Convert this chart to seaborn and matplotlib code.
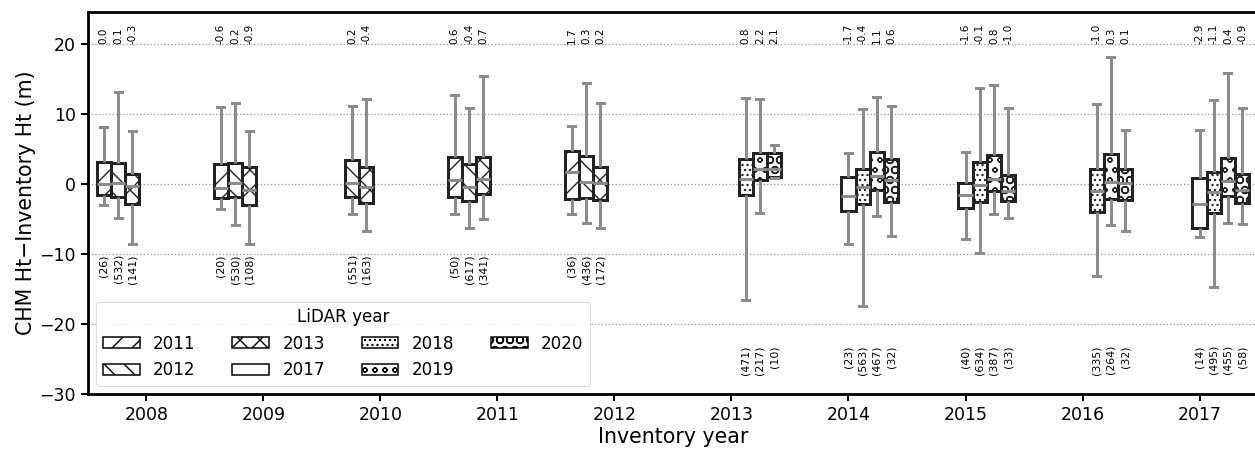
import numpy as np
import pandas as pd
import matplotlib
matplotlib.use("Agg")
import matplotlib.pyplot as plt
from matplotlib.patches import Patch
from matplotlib.colors import to_hex
import seaborn as sns

# ---------------- data ----------------
inventory_years = [2008, 2009, 2010, 2011, 2012, 2013, 2014, 2015, 2016, 2017]
lidar_years = [2011, 2012, 2013, 2017, 2018, 2019, 2020]

box_inventory = [2008, 2008, 2008,
                 2009, 2009, 2009,
                 2010, 2010,
                 2011, 2011, 2011,
                 2012, 2012, 2012,
                 2013, 2013, 2013,
                 2014, 2014, 2014, 2014,
                 2015, 2015, 2015, 2015,
                 2016, 2016, 2016,
                 2017, 2017, 2017, 2017]
box_lidar = [2011, 2012, 2013,
             2011, 2012, 2013,
             2012, 2013,
             2011, 2012, 2013,
             2011, 2012, 2013,
             2018, 2019, 2020,
             2017, 2018, 2019, 2020,
             2017, 2018, 2019, 2020,
             2018, 2019, 2020,
             2017, 2018, 2019, 2020]
box_min = [-3.0, -4.9, -8.6,
           -3.6, -5.8, -8.6,
           -4.3, -6.7,
           -4.3, -6.3, -5.0,
           -4.3, -5.5, -6.3,
           -16.6, -4.1, 0.9,
           -8.6, -17.4, -4.6, -7.4,
           -7.9, -9.8, -4.2, -4.9,
           -13.1, -5.9, -6.7,
           -7.6, -14.7, -5.6, -5.7]
box_q1 = [-1.6, -1.9, -2.8,
          -2.0, -1.9, -3.0,
          -1.8, -2.7,
          -1.8, -2.4, -1.4,
          -2.1, -2.0, -2.3,
          -1.6, 0.6, 1.0,
          -3.8, -2.8, -0.8, -2.5,
          -3.4, -2.5, -1.0, -2.4,
          -4.0, -2.1, -2.3,
          -6.2, -4.1, -1.7, -2.7]
box_median = [0.0, 0.1, -0.3,
              -0.6, 0.2, -0.9,
              0.2, -0.4,
              0.6, -0.4, 0.7,
              1.7, 0.3, 0.2,
              0.8, 2.2, 2.1,
              -1.7, -0.4, 1.1, 0.6,
              -1.6, -0.1, 0.8, -1.0,
              -1.0, 0.3, 0.1,
              -2.9, -1.1, 0.4, -0.9]
box_q3 = [3.2, 3.0, 1.4,
          2.9, 3.0, 2.5,
          3.5, 2.5,
          3.9, 2.9, 3.9,
          4.8, 4.0, 2.4,
          3.6, 4.4, 4.4,
          1.0, 2.2, 4.6, 3.6,
          0.2, 3.1, 4.1, 1.3,
          2.1, 4.3, 2.1,
          0.9, 1.8, 3.8, 1.5]
box_max = [8.2, 13.1, 7.6,
           11.0, 11.6, 7.6,
           11.2, 12.2,
           12.8, 10.9, 15.5,
           8.3, 14.5, 11.6,
           12.3, 12.1, 5.6,
           4.4, 10.7, 12.5, 11.1,
           4.6, 13.8, 14.1, 10.9,
           11.4, 18.2, 7.8,
           7.7, 12.0, 15.9, 10.9]
box_n = [26, 532, 141,
         20, 530, 108,
         551, 163,
         50, 617, 341,
         36, 436, 172,
         471, 217, 10,
         23, 563, 467, 32,
         40, 634, 387, 33,
         335, 264, 32,
         14, 495, 455, 58]

# ---------------- styles ----------------
hatch_for = {2011: "/", 2012: "\\", 2013: "x", 2017: "",
             2018: "..", 2019: "o", 2020: "O"}

DPI = 60


def pt(px):
    """pixel size -> points at the working dpi"""
    return px * 72.0 / DPI


# five-number summaries -> tiny samples whose quantiles equal them
rows = []
for inv, lid, lo, q1, md, q3, hi in zip(box_inventory, box_lidar, box_min,
                                        box_q1, box_median, box_q3, box_max):
    for v in (lo, q1, md, q3, hi):
        rows.append({"Inventory year": str(inv), "LiDAR year": str(lid),
                     "diff": v})
df = pd.DataFrame(rows)

plt.rcParams["hatch.linewidth"] = pt(1.4)
plt.rcParams["font.family"] = ["DejaVu Sans"]

fig = plt.figure(figsize=(1255 / DPI, 450 / DPI), dpi=DPI)
ax = fig.add_axes([0.0701, 0.1244, 0.9323, 0.8489])

hue_keys = [str(y) for y in lidar_years]
tmp_cols = sns.color_palette("tab10", len(hue_keys))
palette = dict(zip(hue_keys, tmp_cols))
col2lid = {to_hex(c): int(k) for k, c in palette.items()}

width = 0.85
line_px = 3.0
sns.boxplot(data=df, x="Inventory year", y="diff", hue="LiDAR year",
            order=[str(y) for y in inventory_years], hue_order=hue_keys,
            palette=palette, saturation=1, width=width, whis=(0, 100),
            dodge=True, showfliers=False, legend=False, ax=ax,
            boxprops=dict(edgecolor="#222222", linewidth=pt(line_px)),
            whiskerprops=dict(color="#8c8c8c", linewidth=pt(line_px)),
            capprops=dict(color="#8c8c8c", linewidth=pt(line_px)),
            medianprops=dict(color="#8c8c8c", linewidth=pt(line_px)))

for p in ax.patches:
    key = to_hex(p.get_facecolor())
    if key in col2lid:
        lid = col2lid[key]
        p.set_facecolor("white")
        p.set_hatch(hatch_for[lid])
        p.set_edgecolor("#222222")

# annotations: median on top, count at the bottom
nh = len(lidar_years)
for inv, lid, md, n in zip(box_inventory, box_lidar, box_median, box_n):
    i = inventory_years.index(inv)
    j = lidar_years.index(lid)
    x = i + (j - (nh - 1) / 2) * width / nh
    ax.text(x, 20, f"{md:.1f}", rotation=90, ha="center", va="bottom",
            fontsize=pt(10.4))
    cy = -10 if inv <= 2012 else -23
    ax.text(x, cy, f"({n})", rotation=90, ha="center", va="top",
            fontsize=pt(11.0))

ax.set_ylim(-30, 24.6)
ax.set_yticks([-30, -20, -10, 0, 10, 20])
ax.yaxis.grid(True, linestyle=":", color="#999999", linewidth=pt(1.3))
ax.set_axisbelow(True)
ax.set_xlabel("Inventory year", fontsize=pt(20.5))
ax.set_ylabel("CHM Ht\u2212Inventory Ht (m)", fontsize=pt(20.5))
ax.tick_params(axis="both", labelsize=pt(17.4), width=pt(2), length=pt(7),
               pad=pt(5))
for s in ax.spines.values():
    s.set_linewidth(pt(2.8))
    s.set_color("black")

handles = [Patch(facecolor="white", edgecolor="black", hatch=hatch_for[y],
                 linewidth=pt(1.5), label=str(y)) for y in lidar_years]
ax.legend(handles=handles, title="LiDAR year", ncol=4, loc="lower left",
          fontsize=pt(16.7), title_fontsize=pt(16.7), handlelength=2.2,
          handleheight=0.65, columnspacing=2.2, handletextpad=0.8,
          borderaxespad=0.5)

fig.savefig("out.png", dpi=DPI)
